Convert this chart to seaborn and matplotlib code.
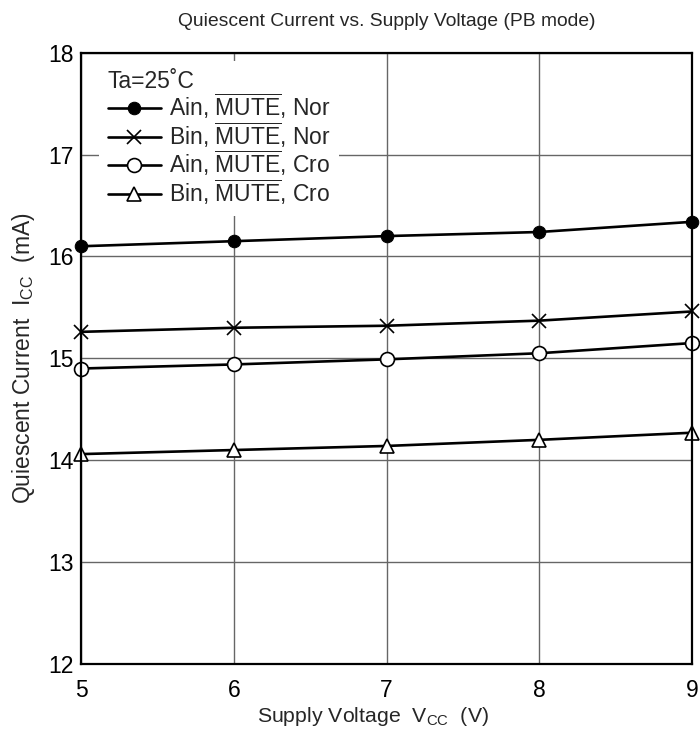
import numpy as np
import pandas as pd
import matplotlib
matplotlib.use("Agg")
import matplotlib.pyplot as plt
import seaborn as sns

# data
vcc = [5, 6, 7, 8, 9]
ain_nor = [16.10, 16.15, 16.20, 16.24, 16.34]
bin_nor = [15.26, 15.30, 15.32, 15.37, 15.46]
ain_cro = [14.90, 14.94, 14.99, 15.05, 15.15]
bin_cro = [14.06, 14.10, 14.14, 14.20, 14.27]

mute = r"$\overline{\mathrm{MUTE}}$"
labels = ["Ain, " + mute + ", Nor", "Bin, " + mute + ", Nor",
          "Ain, " + mute + ", Cro", "Bin, " + mute + ", Cro"]
series = [ain_nor, bin_nor, ain_cro, bin_cro]

sns.set_style("white")
plt.rcParams["font.family"] = ["Liberation Sans", "DejaVu Sans"]
plt.rcParams["mathtext.fontset"] = "custom"
plt.rcParams["mathtext.rm"] = "Liberation Sans"
plt.rcParams["mathtext.it"] = "Liberation Sans:italic"
plt.rcParams["mathtext.bf"] = "Liberation Sans:bold"

fig = plt.figure(figsize=(7, 7.38), dpi=100)
ax = fig.add_axes([0.1157, 0.1003, 0.873, 0.8283])

styles = [
    dict(marker="o", markersize=9, markerfacecolor="black", markeredgecolor="black"),
    dict(marker="x", markersize=9.5, markeredgecolor="black", markeredgewidth=1.2),
    dict(marker="o", markersize=10, markerfacecolor="white", markeredgecolor="black", markeredgewidth=1.2),
    dict(marker="^", markersize=10, markerfacecolor="white", markeredgecolor="black", markeredgewidth=1.2),
]

for vals, lab, st in zip(series, labels, styles):
    sns.lineplot(x=vcc, y=vals, ax=ax, color="black", linewidth=1.9, label=lab,
                 clip_on=False, zorder=3, **st)

ax.set_xlim(5, 9)
ax.set_ylim(12, 18)
ax.set_xticks([5, 6, 7, 8, 9])
ax.set_yticks([12, 13, 14, 15, 16, 17, 18])
ax.grid(True, color="#666666", linewidth=1)
ax.tick_params(axis="both", length=0, labelsize=16.5, colors="black")
ax.tick_params(axis="x", pad=11)
ax.tick_params(axis="y", pad=5)
for s in ax.spines.values():
    s.set_color("black")
    s.set_linewidth(1.6)
    s.set_zorder(4)

ax.set_xlabel(r"Supply Voltage  V$_{\mathrm{CC}}$  (V)", fontsize=15.3)
ax.xaxis.set_label_coords(0.478, -0.067)
ax.set_ylabel(r"Quiescent Current  I$_{\mathrm{CC}}$  (mA)", fontsize=16.5)
ax.yaxis.set_label_coords(-0.072, 0.5)
ax.set_title("Quiescent Current vs. Supply Voltage (PB mode)", fontsize=13.9, pad=19)

leg = ax.legend(loc="upper left", bbox_to_anchor=(0.029, 0.987), title="Ta=25˚C",
                fontsize=16.5, title_fontsize=16.5,
                frameon=True, fancybox=False, edgecolor="none", facecolor="white",
                framealpha=1, handlelength=2.3, handletextpad=0.35, labelspacing=-0.05,
                borderpad=0.4, borderaxespad=0, alignment="left")
leg.set_zorder(5)

fig.savefig("out.png", dpi=100)
